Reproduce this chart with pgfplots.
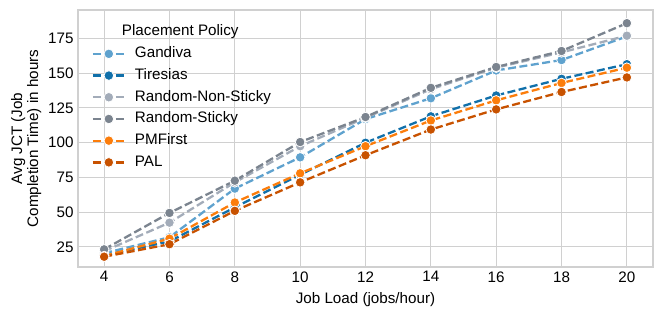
\documentclass[border=0pt]{standalone}
\usepackage{fontspec}
\setmainfont{Liberation Sans}
\usepackage{pgfplots}
\pgfplotsset{compat=1.18}
\definecolor{cGan}{HTML}{5FA2CE}
\definecolor{cTir}{HTML}{1170AA}
\definecolor{cRNS}{HTML}{A3ACB9}
\definecolor{cRS}{HTML}{7B848F}
\definecolor{cPMF}{HTML}{FC7D0B}
\definecolor{cPAL}{HTML}{C85200}
\definecolor{gridc}{HTML}{D0D0D0}
\begin{document}
\begin{tikzpicture}
\begin{axis}[
  scale only axis, width=575bp, height=257bp,
  xmin=3.2, xmax=20.8, ymin=10.6, ymax=195.5,
  xtick={4,6,...,20}, ytick={25,50,...,175},
  major tick length=0pt,
  grid=major, major grid style={gridc, line width=1bp},
  axis line style={gridc, line width=1.25bp},
  tick label style={font=\fontsize{15.2bp}{18bp}\selectfont},
  /pgf/number format/assume math mode=true,
  xticklabel style={yshift=-1bp},
  yticklabel style={xshift=-1bp},
  label style={font=\fontsize{15.2bp}{16bp}\selectfont},
  xlabel={Job Load (jobs/hour)},
  xlabel style={yshift=-3bp},
  ylabel={Avg JCT (Job\\Completion Time) in hours},
  ylabel style={align=center},
  every axis plot/.append style={line width=2.3bp, dash pattern=on 8bp off 3.5bp,
     mark=*, mark size=4.8bp},
  legend image code/.code={\draw[mark repeat=2,mark phase=2,#1] plot coordinates {(0bp,0bp) (16bp,0bp) (32bp,0bp)};},
  legend cell align=left,
  legend style={draw=none, fill=none, at={(rel axis cs:0.0238,0.942)}, anchor=north west,
     inner sep=0pt, outer sep=0pt, column sep=9bp, row sep=7.2bp,
     font=\fontsize{15.2bp}{18bp}\selectfont,
     nodes={inner sep=0pt, text height=11bp, text depth=3.5bp}},
]
\addlegendimage{empty legend}
\addlegendentry{\hspace*{-13bp}Placement Policy}
\addplot[cGan, mark options={solid, draw=white, line width=0.8bp, fill=cGan}] coordinates {
(4,20.5) (6,32) (8,67) (10,89.5) (12,117) (14,132) (16,152) (18,159.5) (20,176.5)};
\addlegendentry{Gandiva}
\addplot[cTir, mark options={solid, draw=white, line width=0.8bp, fill=cTir}] coordinates {
(4,19) (6,29) (8,53.5) (10,77) (12,100) (14,119) (16,134) (18,146) (20,156.5)};
\addlegendentry{Tiresias}
\addplot[cRNS, mark options={solid, draw=white, line width=0.8bp, fill=cRNS}] coordinates {
(4,22) (6,42.5) (8,71.5) (10,97.5) (12,118) (14,138.5) (16,154) (18,165) (20,177)};
\addlegendentry{Random-Non-Sticky}
\addplot[cRS, mark options={solid, draw=white, line width=0.8bp, fill=cRS}] coordinates {
(4,23.3) (6,49.5) (8,72.7) (10,100.5) (12,118.5) (14,139.5) (16,154.5) (18,166) (20,186)};
\addlegendentry{Random-Sticky}
\addplot[cPMF, mark options={solid, draw=white, line width=0.8bp, fill=cPMF}] coordinates {
(4,18.5) (6,31) (8,57) (10,78) (12,97.5) (14,116) (16,130.5) (18,143) (20,154)};
\addlegendentry{PMFirst}
\addplot[cPAL, mark options={solid, draw=white, line width=0.8bp, fill=cPAL}] coordinates {
(4,18) (6,27) (8,51) (10,71.5) (12,91) (14,109.5) (16,124) (18,136.5) (20,147)};
\addlegendentry{PAL}
\end{axis}
\pgfresetboundingbox
\path[use as bounding box] (-78bp,-52bp) rectangle (586bp,267bp);
\end{tikzpicture}
\end{document}
